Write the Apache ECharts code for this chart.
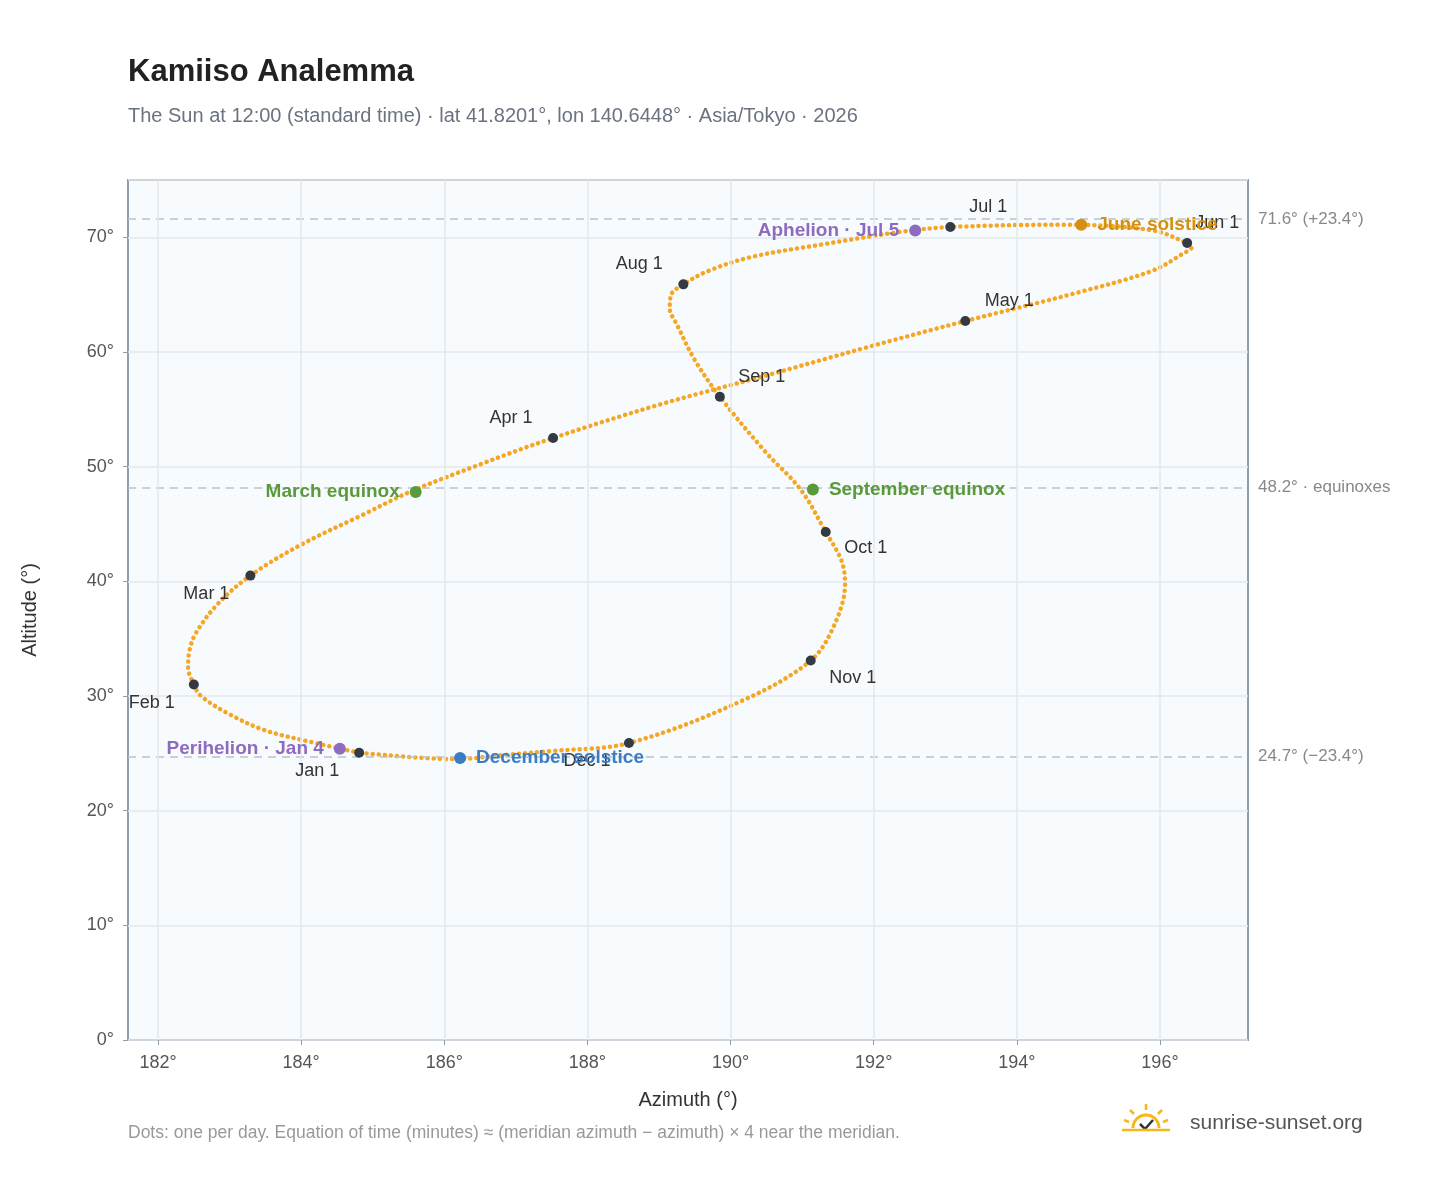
<!DOCTYPE html>
<html>
<head>
<meta charset="utf-8">
<script src="https://cdn.jsdelivr.net/npm/echarts@6/dist/echarts.min.js"></script>
<style>html,body{margin:0;padding:0;background:#fff}#chart{width:1448px;height:1188px}</style>
</head>
<body>
<div id="chart"></div>
<script>
// path of the noon sun through the year (azimuth, altitude)
var pathAz = [184.81, 184.2, 183.5, 183.0, 182.6, 182.5, 182.42, 182.44, 182.53, 182.83, 183.29, 184.0, 184.86, 185.52, 186.5, 187.52, 189.0, 190.47,
  191.9, 193.28, 194.86, 195.9, 196.3, 196.45, 196.38, 195.9, 194.7, 193.07, 192.4, 191.3, 190.3, 189.7, 189.34, 189.17, 189.15, 189.25,
  189.5, 189.85, 190.5, 190.98, 191.33, 191.55, 191.6, 191.45, 191.12, 190.2, 188.58, 187.5, 186.9, 186.15, 184.9];
var pathAlt = [25.05, 25.9, 27.0, 28.4, 30.0, 31.0, 32.5, 34.0, 35.5, 38.0, 40.5, 43.2, 45.8, 47.8, 50.2, 52.5, 55.4, 57.9,
  60.4, 62.7, 65.2, 67.1, 68.5, 69.2, 69.5, 70.6, 71.1, 70.9, 70.5, 69.4, 68.3, 67.1, 65.9, 65.0, 63.8, 62.4,
  59.3, 56.1, 51.2, 48.0, 44.3, 41.8, 39.8, 36.2, 33.1, 29.7, 25.9, 25.2, 24.9, 24.5, 25.0];

var monthNames = ['Jan 1', 'Feb 1', 'Mar 1', 'Apr 1', 'May 1', 'Jun 1', 'Jul 1', 'Aug 1', 'Sep 1', 'Oct 1', 'Nov 1', 'Dec 1'];
var monthAz = [184.81, 182.5, 183.29, 187.52, 193.28, 196.38, 193.07, 189.34, 189.85, 191.33, 191.12, 188.58];
var monthAlt = [25.05, 31.0, 40.5, 52.5, 62.7, 69.5, 70.9, 65.9, 56.1, 44.3, 33.1, 25.9];
var monthOffset = [[-42, 18], [-42, 18], [-44, 18], [-42, -20], [44, -20], [30, -20], [38, -20], [-44, -20], [42, -20], [40, 16], [42, 18], [-42, 18]];

var eventNames = ['Perihelion · Jan 4', 'March equinox', 'June solstice', 'Aphelion · Jul 5', 'September equinox', 'December solstice'];
var eventAz = [184.54, 185.6, 194.9, 192.58, 191.15, 186.22];
var eventAlt = [25.4, 47.8, 71.1, 70.6, 48.0, 24.6];
var eventColor = ['#8e6bbf', '#5a9a3a', '#d4900e', '#8e6bbf', '#5a9a3a', '#3b7dc4'];
var eventSide = ['left', 'left', 'right', 'left', 'right', 'right'];

var refLines = [71.6, 48.2, 24.7];
var refLabels = ['71.6° (+23.4°)', '48.2° · equinoxes', '24.7° (−23.4°)'];
var xTicks = [182, 184, 186, 188, 190, 192, 194, 196];

var chart = echarts.init(document.getElementById('chart'));
var font = 'Liberation Sans, Arial, sans-serif';

chart.setOption({
  backgroundColor: '#fff',
  textStyle: { fontFamily: font },
  title: {
    text: 'Kamiiso Analemma',
    subtext: 'The Sun at 12:00 (standard time) · lat 41.8201°, lon 140.6448° · Asia/Tokyo · 2026',
    left: 123, top: 52, itemGap: 18,
    textStyle: { fontSize: 31, fontWeight: 'bold', color: '#222', fontFamily: font },
    subtextStyle: { fontSize: 20, color: '#6b7280', fontFamily: font }
  },
  grid: { left: 128, right: 200, top: 180, bottom: 148, show: true, backgroundColor: '#f8fbfe', borderColor: '#8e9cab', borderWidth: 2 },
  xAxis: {
    type: 'value', min: 181.58, max: 197.23,
    name: 'Azimuth (°)', nameLocation: 'middle', nameGap: 50,
    nameTextStyle: { fontSize: 20, color: '#333' },
    axisLine: { show: false },
    axisTick: { show: true, customValues: xTicks, length: 5, lineStyle: { color: '#8e9cab' } },
    axisLabel: { customValues: xTicks, formatter: '{value}°', fontSize: 18, color: '#555', margin: 14 },
    splitLine: { show: false }
  },
  yAxis: {
    type: 'value', min: 0, max: 75, interval: 10,
    name: 'Altitude (°)', nameLocation: 'middle', nameGap: 88, nameRotate: 90,
    nameTextStyle: { fontSize: 20, color: '#333' },
    axisLine: { show: false },
    axisTick: { show: true, length: 5, lineStyle: { color: '#8e9cab' } },
    axisLabel: { formatter: '{value}°', fontSize: 18, color: '#555', margin: 14, showMaxLabel: false },
    splitLine: { lineStyle: { color: '#e3e8ee', width: 1.5 } }
  },
  series: [
    {
      type: 'line', smooth: 0.35, symbol: 'none', z: 3,
      data: pathAz.map(function (a, i) { return [a, pathAlt[i]]; }),
      lineStyle: { color: '#f5a623', width: 4.5, type: [0.1, 6], cap: 'round' },
      markLine: {
        silent: true, symbol: 'none',
        data: refLines.map(function (v, i) {
          return { yAxis: v, label: { formatter: refLabels[i] } };
        }).concat(xTicks.map(function (v) {
          return { xAxis: v, lineStyle: { type: 'solid', color: '#e3e8ee', width: 1.5 }, label: { show: false } };
        })),
        lineStyle: { type: [8, 6], color: '#b8c2cc', width: 1.5 },
        label: { position: 'end', fontSize: 17, color: '#888', distance: 10 }
      }
    },
    {
      type: 'scatter', symbolSize: 10, z: 5,
      itemStyle: { color: '#333a44', opacity: 1 },
      data: monthAz.map(function (a, i) {
        return { value: [a, monthAlt[i]], label: { offset: monthOffset[i] } };
      }),
      label: { show: true, position: 'inside', fontSize: 18, color: '#333',
        formatter: function (p) { return monthNames[p.dataIndex]; } }
    },
    {
      type: 'scatter', symbolSize: 12, z: 6,
      data: eventAz.map(function (a, i) {
        return { value: [a, eventAlt[i]], itemStyle: { color: eventColor[i], opacity: 1 },
          label: { position: eventSide[i], color: eventColor[i] } };
      }),
      label: { show: true, fontSize: 19, fontWeight: 'bold', distance: 10,
        formatter: function (p) { return eventNames[p.dataIndex]; } }
    }
  ],
  graphic: [
    { type: 'text', left: 128, top: 1124, style: { text: 'Dots: one per day. Equation of time (minutes) ≈ (meridian azimuth − azimuth) × 4 near the meridian.', fontSize: 17.5, fill: '#999', fontFamily: font } },
    { type: 'text', left: 1190, top: 1113, style: { text: 'sunrise-sunset.org', fontSize: 21, fill: '#555', fontFamily: font } },
    { type: 'arc', shape: { cx: 1146, cy: 1128, r: 13, startAngle: Math.PI, endAngle: 2 * Math.PI }, style: { stroke: '#f5b818', lineWidth: 3, fill: 'none' } },
    { type: 'polyline', shape: { points: [[1140, 1124], [1145, 1129], [1153, 1120]] }, style: { stroke: '#333', lineWidth: 2.5, fill: 'none' } },
    { type: 'line', shape: { x1: 1122, y1: 1130, x2: 1170, y2: 1130 }, style: { stroke: '#f5b818', lineWidth: 2.5 } },
    { type: 'line', shape: { x1: 1146, y1: 1104, x2: 1146, y2: 1110 }, style: { stroke: '#f5b818', lineWidth: 2.5 } },
    { type: 'line', shape: { x1: 1130, y1: 1110, x2: 1134, y2: 1114 }, style: { stroke: '#f5b818', lineWidth: 2.5 } },
    { type: 'line', shape: { x1: 1162, y1: 1110, x2: 1158, y2: 1114 }, style: { stroke: '#f5b818', lineWidth: 2.5 } },
    { type: 'line', shape: { x1: 1124, y1: 1120, x2: 1129, y2: 1122 }, style: { stroke: '#f5b818', lineWidth: 2.5 } },
    { type: 'line', shape: { x1: 1168, y1: 1120, x2: 1163, y2: 1122 }, style: { stroke: '#f5b818', lineWidth: 2.5 } }
  ]
});
</script>
</body>
</html>
